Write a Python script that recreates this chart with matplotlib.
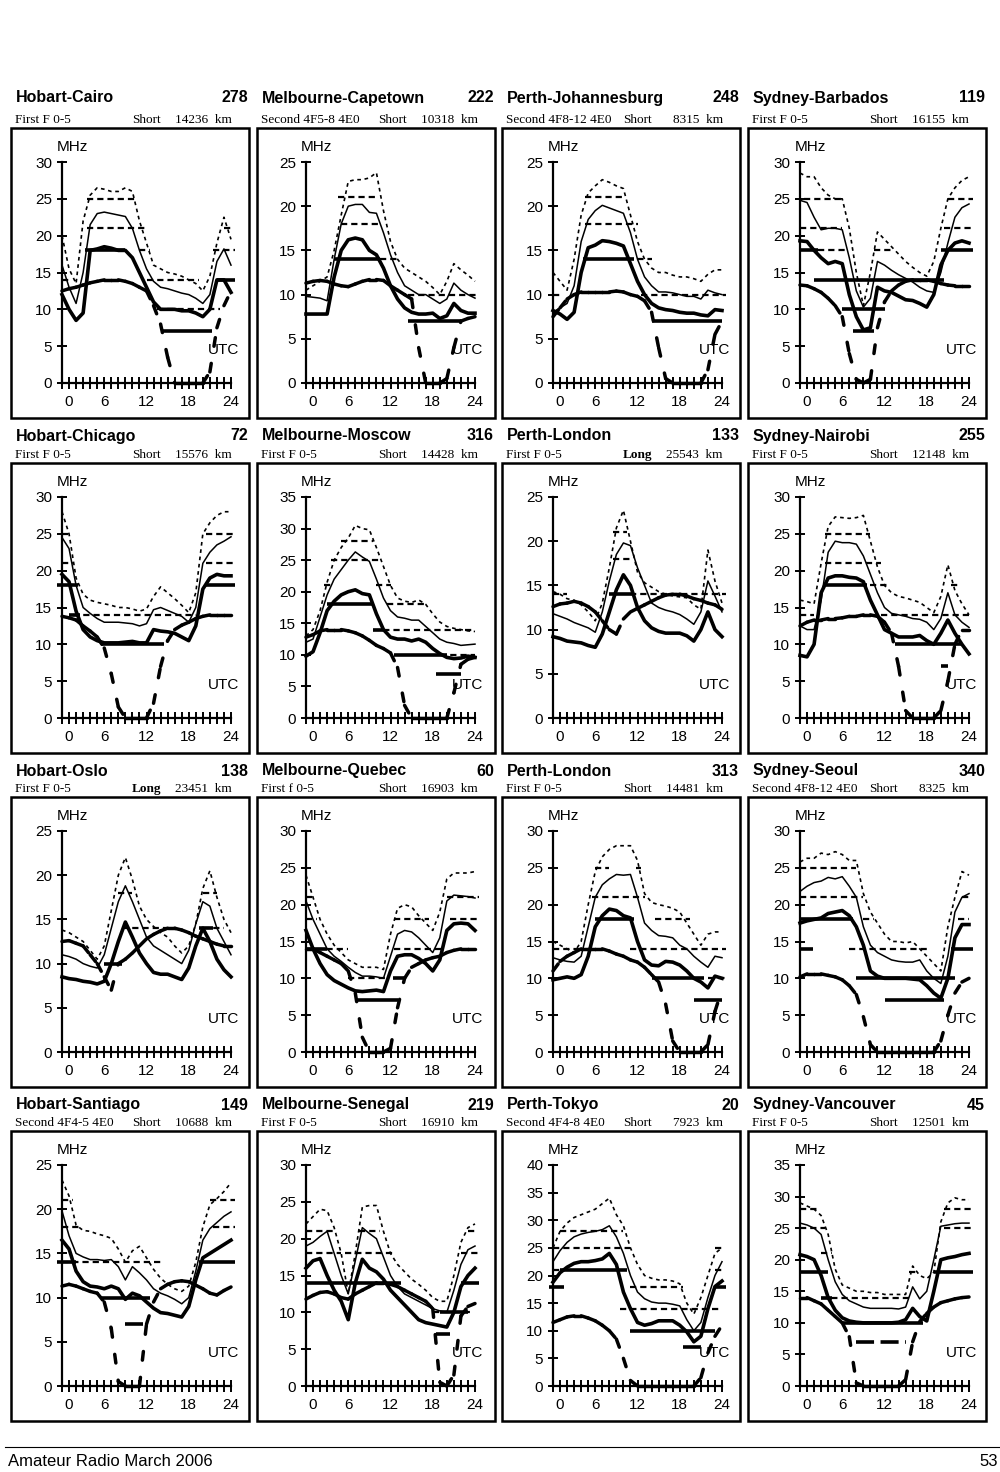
import numpy as np
import matplotlib
matplotlib.use('Agg')
from matplotlib import pyplot as plt
from matplotlib.collections import LineCollection
from matplotlib.patches import Rectangle

plt.rcParams['font.family'] = ['Liberation Sans', 'DejaVu Sans']

hours = np.arange(25)

titles = ['Hobart-Cairo', 'Melbourne-Capetown', 'Perth-Johannesburg', 'Sydney-Barbados',
          'Hobart-Chicago', 'Melbourne-Moscow', 'Perth-London', 'Sydney-Nairobi',
          'Hobart-Oslo', 'Melbourne-Quebec', 'Perth-London', 'Sydney-Seoul',
          'Hobart-Santiago', 'Melbourne-Senegal', 'Perth-Tokyo', 'Sydney-Vancouver']
numbers = ['278', '222', '248', '119', '72', '316', '133', '255',
           '138', '60', '313', '340', '149', '219', '20', '45']
modes = ['First F 0-5', 'Second 4F5-8 4E0', 'Second 4F8-12 4E0', 'First F 0-5',
         'First F 0-5', 'First F 0-5', 'First F 0-5', 'First F 0-5',
         'First F 0-5', 'First f 0-5', 'First F 0-5', 'Second 4F8-12 4E0',
         'Second 4F4-5 4E0', 'First F 0-5', 'Second 4F4-8 4E0', 'First F 0-5']
paths = ['Short', 'Short', 'Short', 'Short', 'Short', 'Short', 'Long', 'Short',
         'Long', 'Short', 'Short', 'Short', 'Short', 'Short', 'Short', 'Short']
distances = ['14236  km', '10318  km', '8315  km', '16155  km',
             '15576  km', '14428  km', '25543  km', '12148  km',
             '23451  km', '16903  km', '14481  km', '8325  km',
             '10688  km', '16910  km', '7923  km', '12501  km']
y_tops = [30, 25, 25, 30, 30, 35, 25, 30, 25, 30, 30, 30, 25, 30, 40, 35]
hour_labels = ['0', '6', '12', '18', '24']
hour_label_pos = [0.9, 6, 12, 18, 24]

# curves: up = upper decile (dotted), med = median (thin), low = thick, luf = thick dashed
# steps: (from hour, to hour, MHz)
cairo_up = [20, 15.5, 13.5, 22, 25.5, 26.5, 26.3, 26, 26, 26.5, 26, 22, 19, 16, 15.5, 15, 14.8, 14.5, 14, 13.5, 12.5, 14.5, 19, 22.5, 19.5]
cairo_med = [16, 13, 10.8, 15, 21.5, 23, 23.2, 23, 22.8, 22.6, 21, 18, 15.5, 13.8, 13, 12.8, 12.5, 12.2, 12, 11.5, 10.8, 12, 16.5, 18.2, 16]
cairo_low = [12, 10, 8.5, 9.5, 18, 18.2, 18.5, 18.3, 18, 18, 17, 15, 13, 11, 10, 10, 10, 9.8, 9.8, 9.5, 9, 10, 14, 14, 12.3]
cairo_luf = [12.5, 12.8, 13, 13.3, 13.6, 13.8, 14, 14, 14, 13.8, 13.5, 13, 12.5, 10.5, 8, 3.5, 0, 0, 0, 0, 0, 1.5, 7.5, 10.5, 12.5]
cairo_dsh = [(3.5, 10.8, 25), (3.5, 11.8, 21), (11, 12.5, 18), (12, 19.5, 14), (13.5, 22.5, 10), (0, 1, 14), (21.5, 24.5, 18), (23, 24, 21)]
cairo_bar = [(3.3, 9, 18), (14.3, 21.3, 7), (22, 24.5, 14)]

capetown_up = [10.5, 11, 11.5, 12, 15, 19, 22.8, 23, 23, 23.2, 23.8, 19.5, 16, 14, 13, 12.5, 12, 11.5, 10.8, 10, 11.5, 13.5, 12.8, 12.2, 11.5]
capetown_med = [9.8, 9.7, 9.6, 9.3, 14, 18, 20, 20.2, 20.2, 19.3, 19.2, 17, 14.5, 12.5, 11, 10.5, 10, 10, 9.5, 9, 9.5, 11.3, 10.5, 10, 9.6]
capetown_low = [7.8, 7.8, 7.8, 7.8, 12, 15, 16.2, 16.4, 16.2, 15, 14.5, 13, 11, 9.5, 8.5, 8, 7.8, 7.8, 7.9, 7.3, 7.6, 9, 8.2, 7.9, 7.9]
capetown_luf = [11.3, 11.5, 11.6, 11.5, 11.2, 11, 10.9, 11.2, 11.5, 11.7, 11.7, 11.6, 11, 10.5, 10, 9.5, 4, 0, 0, 0, 0.5, 4, 7, 7.3, 7.5]
capetown_dsh = [(4.5, 10, 21), (5, 10.5, 18), (10.5, 13, 14), (14.5, 24.5, 10)]
capetown_bar = [(4, 10.5, 14), (14.5, 22, 7)]

johannesburg_up = [12.5, 11.5, 10.5, 14, 19, 21.5, 22.3, 23, 22.7, 22.3, 22, 19, 16, 14, 13, 12.5, 12.5, 12.2, 12, 12, 11.8, 11.5, 12.3, 12.8, 12.8]
johannesburg_med = [8, 8.5, 9, 11, 16, 18.5, 19.5, 20.1, 19.8, 19.5, 19.2, 17, 14, 12, 11, 10.3, 10.3, 10.2, 10, 9.8, 9.8, 9.5, 10.5, 10.2, 10]
johannesburg_low = [8.2, 7.8, 7.2, 8, 12.5, 15.3, 15.6, 16.1, 16, 15.8, 15.5, 13.5, 11.5, 10, 9, 8.5, 8.3, 8.2, 8, 7.9, 7.9, 7.7, 7.6, 8.3, 8.2]
johannesburg_luf = [7.5, 8.5, 9.5, 10, 10.3, 10.3, 10.3, 10.3, 10.3, 10.4, 10.3, 10, 9.8, 9.3, 8, 4, 0.5, 0, 0, 0, 0, 0, 1.5, 5.5, 7]
johannesburg_dsh = [(4.5, 10, 21), (4.5, 12, 18), (10.5, 14, 14), (0, 1, 10), (12.5, 24.5, 10)]
johannesburg_bar = [(4.3, 11.5, 14), (14, 24, 7)]

barbados_up = [28.5, 28, 28, 26.5, 25.5, 25, 25, 21, 15, 10.5, 15, 20.5, 19.5, 18.5, 17.5, 16.5, 15.7, 15, 14.5, 16.5, 21, 25, 26.5, 27.5, 28]
barbados_med = [24.8, 24.5, 22.5, 20.8, 21, 21, 20.8, 17, 12.5, 10.3, 11.5, 16.5, 16, 15.3, 14.7, 14.2, 13.7, 13, 12.5, 12.3, 15, 19, 22.5, 23.8, 24.3]
barbados_low = [19.3, 19.2, 18, 17, 16.2, 16.5, 16.2, 12, 9, 7.2, 7.5, 13, 12.5, 12.3, 11.8, 11.3, 11.2, 10.8, 10.3, 12, 16, 18, 19, 19.3, 19]
barbados_luf = [13.3, 13.2, 12.8, 12.3, 11.5, 10.5, 9, 4, 0.5, 0, 0.5, 7.5, 11, 12.5, 13.3, 13.8, 14, 14, 14, 13.8, 13.5, 13.3, 13.2, 13.2, 13.2]
barbados_dsh = [(0.5, 6, 25), (0, 6, 21), (2.5, 6.5, 18), (6.5, 9, 14), (10.5, 13, 18), (9.5, 16, 14), (21, 24.5, 25), (20.5, 24.5, 21)]
barbados_bar = [(0, 2.5, 18), (20, 24.5, 18), (2, 20.5, 14), (6, 12, 10), (7.5, 10.5, 7)]

chicago_up = [28, 25, 19, 16.8, 16, 15.7, 15.5, 15.3, 15, 15, 14.8, 14.5, 14.8, 16.5, 17.8, 17, 16.2, 15.3, 14.3, 17, 25, 26.5, 27.5, 28, 28]
chicago_med = [24.5, 23, 18, 15, 14.2, 13.5, 13, 13, 13, 12.9, 12.8, 12.5, 12.8, 14.7, 15, 14.6, 14.2, 13.8, 13, 15, 21, 22.5, 23.5, 24, 24.6]
chicago_low = [19.5, 18.5, 14.5, 12, 11, 10.5, 10.2, 10.2, 10.2, 10.3, 10.4, 10.2, 10.2, 12, 11.8, 11.7, 11.5, 11, 10.5, 12.5, 17.5, 19, 19.5, 19.3, 19.3]
chicago_luf = [13.8, 13.6, 13.3, 12.5, 11.8, 11, 9.5, 6, 1.5, 0, 0, 0, 0, 2, 7, 10.5, 12, 12.6, 13, 13.5, 13.8, 14, 14, 14, 14]
chicago_dsh = [(0, 1, 25), (0, 1.5, 21), (1.5, 19, 14), (20.5, 24.5, 25), (20.5, 24.5, 21)]
chicago_bar = [(-0.7, 2.3, 18), (1, 2.5, 14), (5.5, 14.5, 10), (20.5, 24.5, 18)]

moscow_up = [13, 14, 17, 21.5, 25, 27, 28.5, 30.5, 30, 29.8, 27, 24, 21, 19, 18.5, 18.3, 18.7, 18, 16.5, 15.2, 14.5, 14.2, 14, 13.8, 13.7]
moscow_med = [12, 12.5, 16, 19.5, 22, 23.5, 25, 26.3, 25.5, 24.8, 22, 19, 17, 16, 15.8, 15.5, 15.5, 14.5, 13.5, 12.5, 12, 11.8, 11.5, 11.6, 11.7]
moscow_low = [9.8, 10.5, 13.5, 17, 18.5, 19.5, 20, 20.3, 19.7, 19.5, 16.5, 14, 12.8, 12.5, 12.5, 12.2, 12.5, 12, 11, 10.2, 9.6, 9.4, 9.5, 9.8, 9.6]
moscow_luf = [12.8, 13.2, 13.8, 14, 14, 14, 13.8, 13.5, 13, 12.3, 11.5, 11, 10.3, 8, 2, 0, 0, 0, 0, 0, 0, 4, 8.5, 9.3, 9.6]
moscow_dsh = [(5, 9.5, 28), (3.5, 10.5, 25), (2.5, 4, 21), (10, 12, 21), (11.5, 17, 18), (9.5, 24, 14), (19, 24, 10)]
moscow_bar = [(3, 9.5, 18), (9.5, 11, 14), (12.5, 20, 10), (18.5, 22, 7)]

lonlong_up = [14.3, 14, 13.5, 13.3, 12.8, 12, 11, 13, 17, 21.5, 23.5, 20, 16.5, 15.3, 14.8, 14.3, 14, 13.8, 13.7, 13.6, 12.8, 12.3, 19, 15.5, 13]
lonlong_med = [11.8, 11.5, 11.2, 10.8, 10.5, 10.2, 9.7, 12, 15.5, 18.5, 19.8, 19.5, 17, 15, 13, 12.5, 12.2, 12, 11.7, 11.2, 10.6, 12, 15.5, 13.8, 12]
lonlong_low = [9.2, 9, 8.7, 8.6, 8.5, 8.2, 8, 9.5, 12, 14.5, 16.2, 15, 12.5, 11, 10.2, 9.8, 9.6, 9.6, 9.6, 9.3, 8.7, 10, 12, 10, 9.2]
lonlong_luf = [12.6, 12.9, 13, 13.2, 13, 12.6, 12, 11, 10, 9.5, 11.2, 12, 12.4, 12.8, 13.2, 13.6, 13.9, 14, 14, 13.8, 13.5, 13.3, 13, 12.8, 12.3]
lonlong_dsh = [(0, 2, 14), (8.5, 10.5, 21), (8.5, 11, 18), (11, 24.5, 14)]
lonlong_bar = [(8, 11.5, 14)]

nairobi_up = [16, 15.8, 15.5, 21, 26, 27.3, 27.2, 27.1, 27.2, 27.5, 24, 20.5, 18, 17, 16.5, 16.3, 16, 15.7, 15, 14.3, 16.5, 20.8, 17.3, 15.5, 14]
nairobi_med = [12.5, 12, 12, 16, 22.5, 24, 23.8, 23.8, 23.6, 22, 19.5, 17, 15, 14.2, 14, 13.8, 13.5, 13.4, 13, 12, 13.5, 17, 14, 13, 12.3]
nairobi_low = [8.5, 8.3, 10, 17, 19, 19.3, 19.3, 19.1, 19, 18.5, 16, 14, 12, 11.5, 11, 11, 11, 11.2, 10.5, 10, 11.5, 13.3, 11.5, 10, 8.7]
nairobi_luf = [12.5, 13, 13.3, 13.3, 13.5, 13.5, 13.6, 13.8, 13.8, 14, 14, 13.8, 13, 11.5, 7, 1, 0, 0, 0, 0, 1, 5, 10, 12, 12]
nairobi_dsh = [(3.5, 10, 25), (3.5, 11.5, 21), (10, 12.5, 18), (0, 2, 14), (11.5, 24.5, 14), (21.5, 22.5, 18)]
nairobi_bar = [(3.5, 9.5, 18), (13.5, 23, 10), (20, 21, 7)]

oslo_up = [13.8, 13.5, 13, 12.5, 11.5, 10.5, 12, 16, 20, 22, 19.5, 16.5, 15, 14.2, 13.5, 13, 12, 11.2, 12, 14.5, 18.5, 20.5, 17.5, 15, 13.5]
oslo_med = [11, 10.8, 10.5, 10, 9.7, 9.5, 11, 14, 17, 18.8, 17, 15, 13, 12, 11.5, 11, 10.5, 10, 11.5, 14.5, 17, 16.5, 14, 12.5, 11]
oslo_low = [8.5, 8.3, 8.2, 8, 7.9, 7.7, 8, 10, 12.5, 14.7, 13, 11.2, 10, 9, 8.8, 8.8, 8.5, 8.2, 9.5, 12, 14, 12.5, 10.5, 9.3, 8.5]
oslo_luf = [12.5, 12.6, 12.3, 12, 11, 10, 8.5, 7, 10, 10.5, 11.2, 12, 12.8, 13.3, 13.7, 14, 14, 13.8, 13.5, 13.1, 12.8, 12.5, 12.2, 12, 12]
oslo_dsh = [(8, 10, 18), (8.5, 15, 14), (20, 22, 18), (20, 23, 14)]
oslo_bar = [(6, 8.5, 10), (19.5, 21.5, 14)]

quebec_up = [24, 21, 18, 16, 14.5, 13.5, 12.5, 12, 11.5, 11.5, 11.5, 11.2, 16, 19.5, 20, 19.7, 18.5, 17.5, 16.5, 19, 23.5, 24.3, 24.3, 24.3, 24.5]
quebec_med = [20.5, 18, 16, 14, 13, 12.3, 11.5, 10.8, 10.3, 10.3, 10.2, 10, 13, 16, 16.5, 16.3, 15.5, 14.5, 13.5, 15.5, 20.5, 21.3, 21.2, 21.1, 20.9]
quebec_low = [16.5, 14, 12, 10.5, 9.7, 9.2, 8.7, 8.3, 8.2, 8.3, 8.4, 8.2, 11, 13, 13.2, 13.2, 12.7, 12, 11, 12.5, 16.5, 17.4, 17.5, 17.4, 16.5]
quebec_luf = [14, 14, 13.5, 13, 12.5, 12, 11, 8, 2, 0, 0, 0, 0.5, 6, 10, 11.5, 12, 12.5, 12.8, 13, 13.5, 13.8, 14, 14, 14]
quebec_dsh = [(0, 1, 21), (0, 1.5, 18), (0, 6, 14), (6, 11.5, 10), (12.5, 17.5, 18), (12.5, 19.5, 14), (20, 24.5, 21), (20.5, 24.5, 18)]
quebec_bar = [(0, 3, 14), (7, 13, 7), (12.3, 14, 10)]

lonshort_up = [15, 14.5, 14, 13.5, 15, 20, 24.5, 26.5, 27.5, 28, 28, 28, 26, 21.5, 20.3, 20, 19.8, 19.5, 19, 17.5, 16, 14.5, 16, 16.3, 16.3]
lonshort_med = [12.8, 12.5, 12.3, 12.2, 13, 17, 21, 22.7, 23.5, 24.1, 24, 24.1, 21, 17.5, 16.5, 15.8, 15.7, 15.5, 14.5, 14, 13, 12.2, 11.5, 13, 12.8]
lonshort_low = [9.8, 10, 10.2, 10, 10.5, 13, 17, 18.5, 19.4, 19.2, 18.5, 18.2, 15, 12.5, 11.8, 11.7, 12.3, 12.2, 11.8, 11, 10, 9.5, 8.7, 10.3, 10]
lonshort_luf = [11, 12.3, 13, 13.5, 14, 14, 14, 14, 13.7, 13.3, 13, 12.5, 12.2, 11.5, 10.5, 9.5, 6.5, 1.5, 0, 0, 0, 0, 1, 5.5, 8.5]
lonshort_dsh = [(0, 4, 14), (6, 8, 25), (11.8, 12.5, 25), (5.5, 13, 21), (14.5, 19.5, 18), (11, 24.5, 14), (22, 24.5, 10)]
lonshort_bar = [(6, 11.5, 18), (14, 21.5, 10), (20, 24, 7)]

seoul_up = [25.8, 26.3, 26.3, 27, 26.8, 27.2, 26.8, 26, 26, 21.5, 19, 17.5, 16, 15, 15, 14.8, 15, 14, 13, 12, 11, 17, 21, 24.5, 24]
seoul_med = [21.8, 22.5, 23, 23.2, 23.7, 23.5, 23.8, 22.5, 21, 17, 14.5, 13.5, 13, 12.5, 12.3, 12.2, 12.2, 12.5, 11, 10, 9.3, 13, 19, 21, 21.5]
seoul_low = [17.5, 17.8, 18, 18.2, 18.8, 19, 19.2, 18.5, 17, 14.5, 11, 10.3, 10, 10, 10, 10, 9.9, 9.8, 9, 8, 7.3, 10, 15.5, 17.3, 17.3]
seoul_luf = [10.2, 10.6, 10.6, 10.6, 10.4, 10.2, 9.8, 9, 7.8, 4.8, 1, 0, 0, 0, 0, 0, 0, 0, 0, 0, 1.5, 5, 8, 9.5, 10]
seoul_dsh = [(0, 8, 25), (0, 9, 21), (9, 10.5, 18), (7, 18, 14), (12, 22, 10), (22.5, 24, 18), (23, 24, 21)]
seoul_bar = [(0, 7.5, 18), (0, 1.9, 14), (8, 22, 10), (12, 20.5, 7), (21.5, 24.5, 14)]

santiago_up = [23.3, 21.5, 18.2, 17.6, 17.5, 17.2, 17, 16.7, 15.5, 14, 15.3, 15.8, 14.5, 13.2, 12.2, 11.5, 11, 10.7, 11.3, 14, 18, 20.5, 21.2, 22, 23]
santiago_med = [19.8, 17, 15, 14.6, 14.3, 14.3, 14.2, 14.3, 13.5, 12, 13.5, 12.8, 12, 11, 10.5, 10.2, 9.8, 9.3, 10, 13, 16.5, 17.8, 18.5, 19.2, 19.7]
santiago_low = [16.5, 15.5, 13, 11.8, 11.3, 11.2, 11, 11.3, 11, 9.8, 10.5, 10.2, 9.5, 8.8, 8.3, 8.2, 8, 7.8, 9, 12, 14.5, 15, 15.5, 16, 16.5]
santiago_luf = [11.3, 11.5, 11.3, 11, 10.7, 10.5, 9.5, 6.5, 0.5, 0, 0, 0, 7, 9.5, 11, 11.5, 11.8, 11.9, 11.8, 11.4, 11, 10.5, 10.3, 10.8, 11.2]
santiago_dsh = [(0, 1.5, 21), (0, 2.5, 18), (0, 14.5, 14), (21, 24.5, 21), (21.5, 24.5, 18)]
santiago_bar = [(-0.7, 2, 14), (5.5, 12.5, 10), (19.5, 24.5, 14)]
santiago_dbar = [(9, 11.5, 7)]

senegal_up = [22, 23, 24, 23.8, 21.5, 18, 12.5, 18, 24.3, 24.5, 24.5, 21, 18, 16.5, 15.5, 14.5, 13.8, 13, 12, 11.5, 11.5, 15, 19.5, 21.5, 22]
senegal_med = [19, 19.5, 20.3, 21, 18, 15, 12.5, 17, 21.5, 20.7, 20, 17.5, 15, 13.5, 12.5, 12, 11.5, 11, 10.5, 10.2, 10, 13, 16.5, 18.5, 19]
senegal_low = [16, 17, 17.3, 15, 13, 11.5, 9, 14, 17.2, 16, 15.5, 14.5, 13, 12, 11, 10, 9, 8.6, 8.4, 8.2, 8, 10, 13.5, 15, 16]
senegal_luf = [11.8, 12.3, 12.7, 12.8, 12.5, 12, 11.8, 12.5, 13, 13.5, 14, 14, 13.8, 13.5, 13, 12.5, 12, 11.5, 10.5, 0.5, 0, 1.5, 9.5, 10.8, 11.2]
senegal_dsh = [(0, 4, 21), (0, 5, 18), (5.5, 12.5, 18), (7.5, 10.5, 21), (18, 23.5, 10), (22, 24.5, 18), (23, 24, 21)]
senegal_bar = [(0, 13.5, 14), (22, 24.5, 14), (19, 23, 10), (18.5, 20.5, 7)]

tokyo_up = [25, 28, 29.5, 30.5, 31, 31.5, 32, 33, 34, 31, 29, 25, 22, 20, 19.5, 19.2, 19.2, 19, 18.5, 15, 13, 16, 20, 24, 25]
tokyo_med = [22.5, 24.5, 26, 27, 27.5, 27.8, 28, 28.3, 29, 27, 24, 20, 17, 15.8, 15.2, 15, 15, 14.8, 14.5, 12, 10, 11.5, 16, 20, 22.5]
tokyo_low = [18.8, 20.5, 21.5, 22.2, 22.5, 22.5, 22.7, 23, 24, 22, 17, 14, 11.5, 11, 11.3, 11.8, 11.8, 11.8, 11, 9.8, 8, 9, 14, 18, 19]
tokyo_luf = [11.5, 12, 12.5, 12.7, 12.7, 12.3, 11.8, 11, 10, 8.5, 5, 1, 0, 0, 0, 0, 0, 0, 0, 0, 0, 1.5, 6, 9, 11]
tokyo_dsh = [(1, 10, 28), (0, 11, 25), (0, 1, 21), (11, 18.5, 18), (9.5, 24, 14), (23, 24, 25), (23, 24, 21)]
tokyo_bar = [(-0.5, 1.5, 18), (1, 10.5, 21), (11, 23, 10), (18.5, 21, 7), (23, 24.5, 18)]

vancouver_up = [29, 28.5, 28, 27, 24, 18.5, 16, 15.5, 15, 15, 14.8, 14.8, 14.5, 14.5, 14.5, 14.5, 19, 17.5, 17, 18, 26, 29, 29.8, 29.5, 29.5]
vancouver_med = [25.8, 25.5, 25, 24, 20, 16.5, 14.5, 13.5, 13, 12.5, 12.3, 12.3, 12.3, 12.3, 12.2, 12.5, 15.7, 13.8, 15, 20, 25.3, 25.5, 25.7, 25.8, 25.8]
vancouver_low = [20.8, 20.5, 20, 17.5, 14, 12, 10.8, 10.3, 10.1, 10, 10, 10, 10, 10, 10.1, 10.5, 12.3, 11, 10.3, 15, 20, 20.3, 20.5, 20.8, 21]
vancouver_luf = [14, 14, 13.5, 13, 12, 11, 10, 7.8, 0.5, 0, 0, 0, 0, 0, 0, 1, 7, 10.2, 11.5, 12.5, 13.2, 13.5, 13.8, 14, 14.1]
vancouver_dsh = [(0, 2.5, 28), (0, 3.5, 25), (3, 4.5, 21), (3, 15.5, 14), (15.5, 16.5, 18), (20.5, 24.5, 28), (20.5, 24.5, 25)]
vancouver_bar = [(0, 4, 18), (3, 4.5, 14), (6, 17.5, 10), (19, 24.5, 18)]
vancouver_dbar = [(8, 15, 7)]

panels = [
    (cairo_up, cairo_med, cairo_low, cairo_luf, cairo_dsh, cairo_bar, []),
    (capetown_up, capetown_med, capetown_low, capetown_luf, capetown_dsh, capetown_bar, []),
    (johannesburg_up, johannesburg_med, johannesburg_low, johannesburg_luf, johannesburg_dsh, johannesburg_bar, []),
    (barbados_up, barbados_med, barbados_low, barbados_luf, barbados_dsh, barbados_bar, []),
    (chicago_up, chicago_med, chicago_low, chicago_luf, chicago_dsh, chicago_bar, []),
    (moscow_up, moscow_med, moscow_low, moscow_luf, moscow_dsh, moscow_bar, []),
    (lonlong_up, lonlong_med, lonlong_low, lonlong_luf, lonlong_dsh, lonlong_bar, []),
    (nairobi_up, nairobi_med, nairobi_low, nairobi_luf, nairobi_dsh, nairobi_bar, []),
    (oslo_up, oslo_med, oslo_low, oslo_luf, oslo_dsh, oslo_bar, []),
    (quebec_up, quebec_med, quebec_low, quebec_luf, quebec_dsh, quebec_bar, []),
    (lonshort_up, lonshort_med, lonshort_low, lonshort_luf, lonshort_dsh, lonshort_bar, []),
    (seoul_up, seoul_med, seoul_low, seoul_luf, seoul_dsh, seoul_bar, []),
    (santiago_up, santiago_med, santiago_low, santiago_luf, santiago_dsh, santiago_bar, santiago_dbar),
    (senegal_up, senegal_med, senegal_low, senegal_luf, senegal_dsh, senegal_bar, []),
    (tokyo_up, tokyo_med, tokyo_low, tokyo_luf, tokyo_dsh, tokyo_bar, []),
    (vancouver_up, vancouver_med, vancouver_low, vancouver_luf, vancouver_dsh, vancouver_bar, vancouver_dbar),
]

# page layout in pixels
W, H = 1000, 1472
box_left = [11, 257, 502, 748]
box_top = [128, 463, 797, 1131]
box_w, box_h = 238, 290
axis_x = [62, 306, 553, 800]
title_y = [98, 436, 771, 1105]
sub_y = [120, 455, 789, 1123]

def fx(p):
    return p / W

def fy(p):
    return 1 - p / H

fig = plt.figure(figsize=(10, 14.72), dpi=100)

for i, (up, med, low, luf, dsh, bar, dbar) in enumerate(panels):
    r, c = divmod(i, 4)
    bl, bt = box_left[c], box_top[r]
    top = y_tops[i]

    fig.add_artist(Rectangle((fx(bl), fy(bt + box_h)), box_w / W, box_h / H,
                             transform=fig.transFigure, fill=False, lw=1.8, ec='k'))

    ax = fig.add_axes([fx(axis_x[c]), fy(bt + 255), 169 / W, 221 / H])
    ax.patch.set_visible(False)
    ax.set_xlim(0, 24)
    ax.set_ylim(0, top)
    for s in ['top', 'right']:
        ax.spines[s].set_visible(False)
    for s in ['left', 'bottom']:
        ax.spines[s].set_linewidth(1.6)
    ax.set_xticks(hours)
    ax.set_xticklabels([])
    ax.set_yticks(np.arange(0, top + 1, 5))
    ax.tick_params(axis='x', direction='inout', length=8, width=1.4)
    ax.tick_params(axis='y', direction='inout', length=7, width=1.4, pad=3.5, labelsize=11)
    for pos, lab in zip(hour_label_pos, hour_labels):
        ax.text(pos, -0.085, lab, transform=ax.get_xaxis_transform(),
                ha='center', va='center', fontsize=11)
    ax.text(23, 0.15, 'UTC', transform=ax.get_xaxis_transform(),
            ha='center', va='center', fontsize=11)
    fig.text(fx(axis_x[c] + 10), fy(bt + 19), 'MHz', ha='center', va='center', fontsize=11)

    # band steps
    for x0, x1, y in dsh:
        ax.hlines(y, x0, x1, colors='k', lw=1.6, linestyles=[(0, (2.8, 1.8))], clip_on=False)
    for x0, x1, y in bar:
        ax.hlines(y, x0, x1, colors='k', lw=2.6, clip_on=False)
    for x0, x1, y in dbar:
        ax.hlines(y, x0, x1, colors='k', lw=2.6, linestyles=[(0, (5, 1.8))], clip_on=False)

    # frequency curves
    ax.plot(hours, up, color='k', lw=1.2, ls=(0, (2.2, 2.2)), clip_on=False)
    ax.plot(hours, med, color='k', lw=1.1, clip_on=False)
    ax.plot(hours, low, color='k', lw=2.6, solid_joinstyle='round', clip_on=False)
    pts = np.column_stack([hours, luf])
    segs = np.stack([pts[:-1], pts[1:]], axis=1)
    ax.add_collection(LineCollection(segs, colors='k', linewidths=2.5,
                                     linestyles=[(0, (2.5, 5))], capstyle='round',
                                     clip_on=False))

    # headings
    fig.text(fx(bl + 4.5), fy(title_y[r]), titles[i], fontsize=11.5, fontweight='bold',
             ha='left', va='center')
    fig.text(fx(bl + 237), fy(title_y[r]), numbers[i], fontsize=11.5, fontweight='bold',
             ha='right', va='center')
    fig.text(fx(bl + 4), fy(sub_y[r]), modes[i], family='Liberation Serif', fontsize=9.5,
             ha='left', va='center')
    fig.text(fx(bl + 121), fy(sub_y[r]), paths[i], family='Liberation Serif', fontsize=9.5,
             fontweight='bold' if paths[i] == 'Long' else 'normal', ha='left', va='center')
    fig.text(fx(bl + 221), fy(sub_y[r]), distances[i], family='Liberation Serif', fontsize=9.5,
             ha='right', va='center')

# footer
fig.add_artist(plt.Line2D([fx(5), fx(1000)], [fy(1447), fy(1447)], transform=fig.transFigure,
                          color='k', lw=0.8))
fig.text(fx(8), fy(1462), 'Amateur Radio March 2006', fontsize=12, ha='left', va='center')
fig.text(fx(998), fy(1462), '53', fontsize=12, ha='right', va='center')

fig.savefig('out.png', dpi=100)
